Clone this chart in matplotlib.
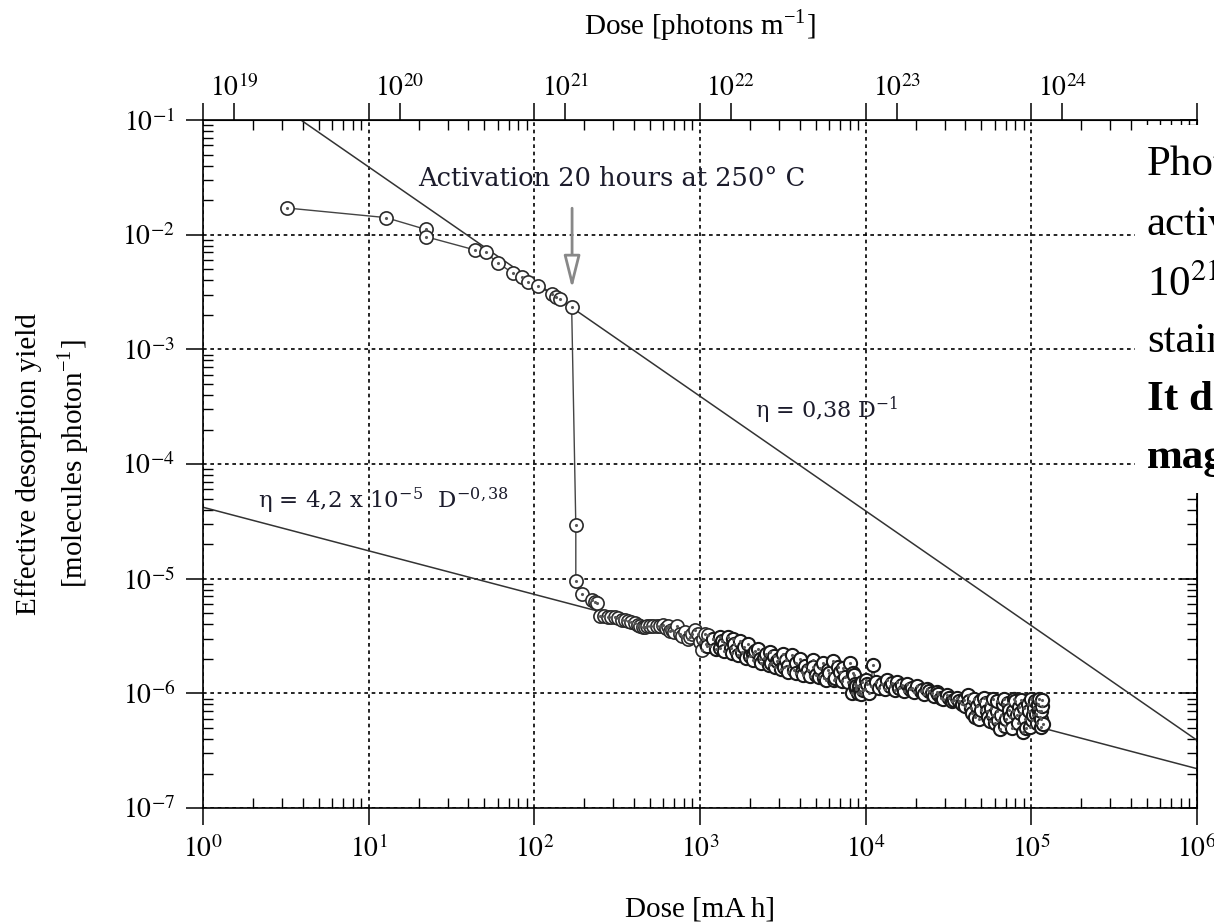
import matplotlib
matplotlib.use("Agg")
import matplotlib.pyplot as plt
import matplotlib.ticker as ticker
from matplotlib.patches import Rectangle
import numpy as np

plt.rcParams['font.family'] = 'serif'
plt.rcParams['font.serif'] = ['Liberation Serif', 'DejaVu Serif']
plt.rcParams['mathtext.fontset'] = 'stix'

# before activation + the drop (mA h, molecules/photon)
dose_pre = [3.2, 12.7, 22.2, 22.2, 43.8, 50.8, 60, 74.6, 83.8, 91.2, 105.7, 127, 136, 143, 168,
            178, 178, 193, 223, 232, 239]
eta_pre = [1.71e-2, 1.41e-2, 1.11e-2, 9.6e-3, 7.36e-3, 7.02e-3, 5.7e-3, 4.6e-3, 4.3e-3, 3.9e-3,
           3.57e-3, 3.04e-3, 2.87e-3, 2.74e-3, 2.36e-3,
           2.94e-5, 9.6e-6, 7.4e-6, 6.5e-6, 6.3e-6, 6.2e-6]

# after activation, 250 - 1200 mA h
dose_a = [249, 262, 278, 292, 306, 322, 338, 352, 367, 385, 405, 420, 434, 450, 465, 480,
          499, 520, 550, 573, 597, 620, 640, 660, 677, 700, 726, 757, 780, 811, 846, 870,
          900, 932, 971, 1000, 1026, 1040, 1070, 1090, 1117, 1150, 1197]
eta_a = [4.74e-6, 4.7e-6, 4.67e-6, 4.62e-6, 4.6e-6, 4.5e-6, 4.4e-6, 4.35e-6, 4.3e-6, 4.2e-6,
         4.1e-6, 3.95e-6, 3.85e-6, 3.82e-6, 3.8e-6, 3.85e-6, 3.9e-6, 3.9e-6, 3.88e-6,
         3.9e-6, 3.92e-6, 3.75e-6, 3.85e-6, 3.5e-6, 3.6e-6, 3.45e-6, 3.85e-6, 3.3e-6,
         3.15e-6, 3.4e-6, 2.95e-6, 3.1e-6, 3.3e-6, 3.6e-6, 3.3e-6, 2.8e-6, 2.4e-6, 3.0e-6,
         3.3e-6, 2.7e-6, 3.2e-6, 2.6e-6, 2.95e-6]

# 1200 - 10000 mA h
dose_b = [1100, 1200, 1250, 1320, 1320, 1350, 1400, 1400, 1473, 1530, 1550, 1585, 1600, 1650,
          1700, 1740, 1800, 1850, 1900, 1945, 2000, 2100, 2100, 2150, 2240, 2300, 2350, 2450,
          2500, 2600, 2630, 2700, 2800, 2850, 2900, 3000, 3100, 3160, 3200, 3300, 3400, 3400,
          3590, 3700, 3800, 3800, 4010, 4100, 4200, 4300, 4500, 4600, 4790, 4800, 5000, 5200,
          5300, 5500, 5600, 5800, 5900, 6000, 6310, 6400, 6500, 6800, 7000, 7200, 7300, 7500,
          7800, 8030, 8300, 8370, 8500, 8600, 8700, 8800, 9000, 9100, 9200, 9400, 9500, 9700,
          9900, 10000]
eta_b = [2.6e-6, 3.0e-6, 2.45e-6, 3.1e-6, 2.5e-6, 2.85e-6, 2.7e-6, 2.35e-6, 3.1e-6, 2.5e-6,
         2.25e-6, 2.95e-6, 2.7e-6, 2.4e-6, 2.15e-6, 2.85e-6, 2.3e-6, 2.55e-6, 2.05e-6, 2.7e-6,
         2.1e-6, 2.2e-6, 1.95e-6, 2.35e-6, 2.45e-6, 2.0e-6, 1.85e-6, 2.05e-6, 2.2e-6, 1.78e-6,
         2.3e-6, 1.85e-6, 2.1e-6, 1.7e-6, 1.9e-6, 2.0e-6, 1.62e-6, 2.2e-6, 1.7e-6, 1.95e-6,
         1.75e-6, 1.55e-6, 2.15e-6, 1.6e-6, 1.85e-6, 1.5e-6, 2.0e-6, 1.55e-6, 1.45e-6, 1.75e-6,
         1.6e-6, 1.42e-6, 1.95e-6, 1.7e-6, 1.45e-6, 1.38e-6, 1.65e-6, 1.85e-6, 1.35e-6,
         1.32e-6, 1.6e-6, 1.5e-6, 1.9e-6, 1.3e-6, 1.35e-6, 1.7e-6, 1.55e-6, 1.28e-6, 1.65e-6,
         1.4e-6, 1.25e-6, 1.85e-6, 1.0e-6, 1.5e-6, 1.45e-6, 1.2e-6, 1.1e-6, 1.15e-6, 1.0e-6,
         1.15e-6, 1.05e-6, 0.98e-6, 1.25e-6, 1.08e-6, 1.1e-6, 1.3e-6]

# 10000 - 40000 mA h
dose_c = [10200, 10500, 10800, 11000, 11500, 12000, 12500, 13000, 13400, 14000, 14500, 15000,
          15400, 16000, 16500, 17000, 17700, 18500, 19000, 19500, 20400, 21500, 22000, 22500,
          23400, 24000, 25000, 26000, 26900, 27500, 28500, 29500, 31000, 32000, 33000, 34000,
          35500, 36500, 38000, 39000, 40000]
eta_c = [1.2e-6, 1.0e-6, 1.15e-6, 1.77e-6, 1.25e-6, 1.12e-6, 1.2e-6, 1.1e-6, 1.3e-6, 1.15e-6,
         1.22e-6, 1.08e-6, 1.25e-6, 1.12e-6, 1.18e-6, 1.05e-6, 1.2e-6, 1.1e-6, 1.12e-6,
         1.02e-6, 1.17e-6, 1.05e-6, 1.08e-6, 0.98e-6, 1.1e-6, 1.05e-6, 1.0e-6, 0.95e-6,
         1.02e-6, 0.98e-6, 0.92e-6, 0.9e-6, 0.96e-6, 0.92e-6, 0.85e-6, 0.87e-6, 0.91e-6,
         0.85e-6, 0.8e-6, 0.88e-6, 0.78e-6]

# 40000 - 120000 mA h
dose_d = [41400, 42000, 43000, 44000, 45000, 46000, 47000, 48000, 49000, 50000, 52000, 53000,
          54000, 55000, 56000, 57000, 58600, 59000, 60000, 61700, 62000, 63000, 64500, 66000,
          67000, 68000, 69000, 70000, 72000, 73000, 74000, 76000, 78000, 79000, 80000, 81700,
          83000, 84000, 86000, 87000, 88900, 90000, 92000, 93000, 95000, 97000, 98000, 100000,
          101000, 102000, 104000, 105000, 107000, 108000, 110000, 112000, 112000, 113000,
          114000, 115000, 115000, 116000, 116000, 117000]
eta_d = [0.96e-6, 0.85e-6, 0.75e-6, 0.68e-6, 0.9e-6, 0.62e-6, 0.78e-6, 0.6e-6, 0.85e-6,
         0.72e-6, 0.92e-6, 0.82e-6, 0.7e-6, 0.62e-6, 0.57e-6, 0.75e-6, 0.9e-6, 0.65e-6,
         0.55e-6, 0.7e-6, 0.85e-6, 0.58e-6, 0.49e-6, 0.65e-6, 0.8e-6, 0.9e-6, 0.52e-6, 0.6e-6,
         0.82e-6, 0.72e-6, 0.62e-6, 0.5e-6, 0.7e-6, 0.9e-6, 0.85e-6, 0.65e-6, 0.55e-6,
         0.76e-6, 0.68e-6, 0.88e-6, 0.46e-6, 0.75e-6, 0.6e-6, 0.5e-6, 0.8e-6, 0.7e-6, 0.51e-6,
         0.9e-6, 0.58e-6, 0.65e-6, 0.75e-6, 0.85e-6, 0.66e-6, 0.55e-6, 0.8e-6, 0.9e-6, 0.7e-6,
         0.62e-6, 0.51e-6, 0.6e-6, 0.7e-6, 0.78e-6, 0.88e-6, 0.54e-6]

# fits: eta = a * D^b
fit_hi = (0.39, -1.0)
fit_lo = (4.2e-5, -0.38)
fit_range = [1.0, 1.0e6]

photons_per_mAh = 6.5e18
top_ticks = [1e19, 1e20, 1e21, 1e22, 1e23, 1e24]

fig = plt.figure(figsize=(12.14, 9.24), dpi=100)
ax = fig.add_axes([0.1672, 0.1255, 0.8188, 0.7446])

dose_early = dose_pre + dose_a
eta_early = eta_pre + eta_a
dose_late = dose_b + dose_c + dose_d
eta_late = eta_b + eta_c + eta_d
ax.plot(dose_early + dose_late, eta_early + eta_late, '-', color='#444444', lw=1.0, zorder=3)
ax.plot(dose_early, eta_early, 'o', ms=9.5, mfc='white', mec='#2a2a2a', mew=1.2, zorder=4,
        ls='none')
ax.plot(dose_late, eta_late, 'o', ms=9.5, mfc='white', mec='#1a1a1a', mew=1.5, zorder=4,
        ls='none')
ax.plot(dose_early + dose_late, eta_early + eta_late, '.', ms=2.5, color='#555555', zorder=5,
        ls='none')

for a, b in (fit_hi, fit_lo):
    fx = np.array(fit_range)
    ax.plot(fx, a * fx ** b, '-', color='#333333', lw=1.1, zorder=2)

ax.set_xscale('log')
ax.set_yscale('log')
ax.set_xlim(1, 1e6)
ax.set_ylim(1e-7, 1e-1)

fmt = ticker.FuncFormatter(lambda v, p: r'$10^{%d}$' % round(np.log10(v)))
ax.xaxis.set_major_locator(ticker.LogLocator(base=10, numticks=10))
ax.yaxis.set_major_locator(ticker.LogLocator(base=10, numticks=10))
ax.xaxis.set_major_formatter(fmt)
ax.yaxis.set_major_formatter(fmt)
ax.xaxis.set_minor_locator(ticker.LogLocator(base=10, subs=np.arange(2, 10), numticks=20))
ax.yaxis.set_minor_locator(ticker.LogLocator(base=10, subs=np.arange(2, 10), numticks=20))
ax.xaxis.set_minor_formatter(ticker.NullFormatter())
ax.yaxis.set_minor_formatter(ticker.NullFormatter())

ax.tick_params(which='major', direction='out', length=12, width=1.1, labelsize=20, pad=8,
               top=True, right=False)
ax.tick_params(which='minor', direction='in', length=7, width=1.0, top=True, right=True)
for s in ax.spines.values():
    s.set_linewidth(1.2)

ax.grid(True, which='major', color='black', linestyle=(0, (2.2, 2.2)), lw=1.2)

sec_r = ax.secondary_yaxis('right')
sec_r.set_yticks([1e-7, 1e-6, 1e-5, 1e-4, 1e-3, 1e-2, 1e-1])
sec_r.yaxis.set_minor_locator(ticker.NullLocator())
sec_r.tick_params(direction='in', length=12, width=1.1, labelright=False)

sec_t = ax.secondary_xaxis('top', functions=(lambda d: d * photons_per_mAh,
                                              lambda p: p / photons_per_mAh))
sec_t.set_xticks(top_ticks)
sec_t.xaxis.set_minor_locator(ticker.NullLocator())
sec_t.xaxis.set_major_formatter(fmt)
sec_t.tick_params(direction='out', length=12, width=1.1, labelsize=20, pad=1)
sec_t.set_xlabel(r'Dose [photons m$^{\mathregular{-1}}$]', fontsize=21, labelpad=28)

ax.set_xlabel('Dose [mA h]', fontsize=21, labelpad=24)
ax.set_ylabel('Effective desorption yield\n[molecules photon$^{\\mathregular{-1}}$]',
              fontsize=21, labelpad=22, linespacing=1.55)

ax.annotate('', xy=(169, 3.2e-3), xytext=(169, 1.8e-2),
            arrowprops=dict(arrowstyle='-|>,head_length=1.0,head_width=0.25', color='#888888',
                            fc='white', lw=2.0, mutation_scale=20), zorder=6)
ax.text(0.4115, 0.9157, 'Activation 20 hours at 250\u00b0 C', transform=ax.transAxes,
        family='DejaVu Serif', fontsize=18.5, color='#1c1c2c', ha='center', va='center')
ax.text(0.555, 0.5785, '\u03b7 = 0,38 D$^{\\mathregular{-1}}$', transform=ax.transAxes,
        family='DejaVu Serif', fontsize=16, color='#1c1c2c', ha='left', va='center')
ax.text(0.0553, 0.4477, '\u03b7 = 4,2 x 10$^{\\mathregular{-5}}$  D$^{\\mathregular{-0,38}}$',
        transform=ax.transAxes, family='DejaVu Serif', fontsize=16.5, color='#1c1c2c',
        ha='left', va='center')

# slide text box overlapping the chart
fig.add_artist(Rectangle((0.935, 0.466), 0.08, 0.399, transform=fig.transFigure,
                         fc='white', ec='none', zorder=10))
box_lines = ['Photon', 'activation', r'10$^{21}$', 'stainless', 'It drops', 'magnitude']
box_y = [165, 225, 285, 342, 400, 458]
for i, (t, yy) in enumerate(zip(box_lines, box_y)):
    fig.text(1147 / 1214, 1 - yy / 924, t, fontsize=31, ha='left', va='center',
             fontweight='bold' if i >= 4 else 'normal', zorder=11)

fig.savefig('out.png', dpi=100)
